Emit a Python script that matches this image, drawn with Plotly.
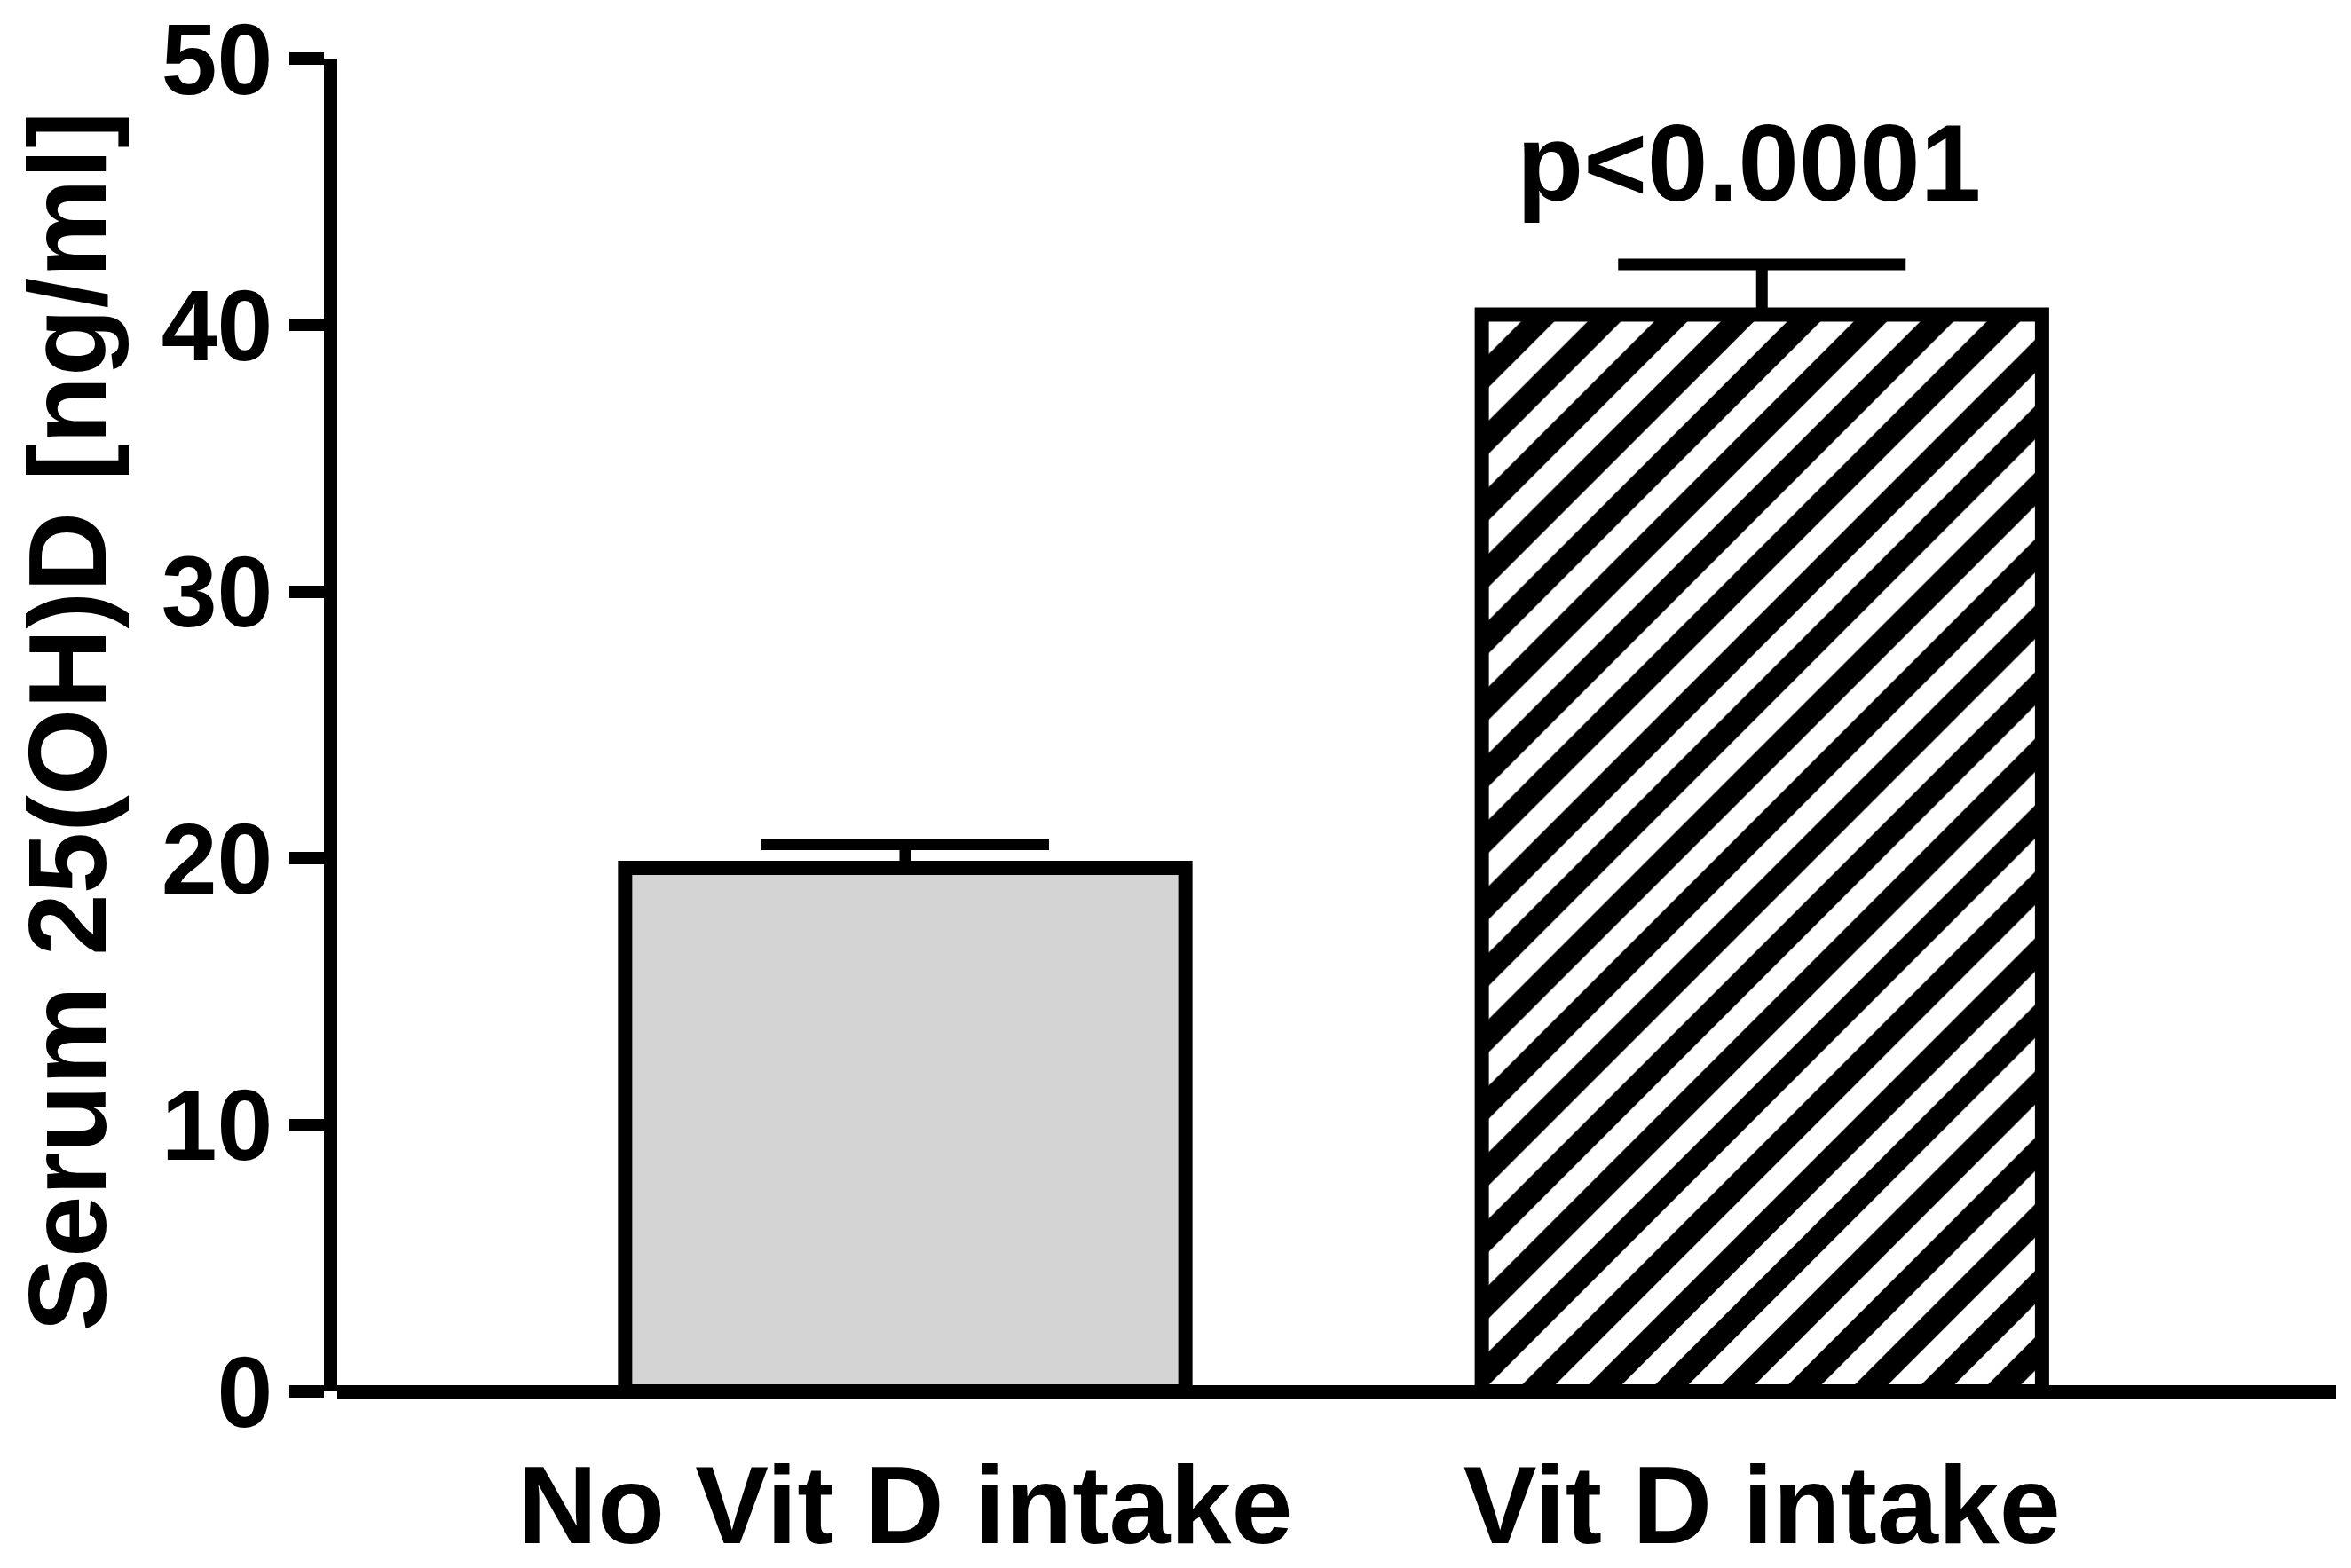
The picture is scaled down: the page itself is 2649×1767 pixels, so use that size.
import plotly.graph_objects as go

# group means and SEM
groups = ["No Vit D intake", "Vit D intake"]
means = [19.64, 40.40]
sem = [0.88, 1.88]
y_ticks = [0, 10, 20, 30, 40, 50]
p_label = "p<0.0001"

FONT = "Liberation Sans, Arial, sans-serif"

fig = go.Figure()

# grey bar (no intake)
fig.add_trace(go.Bar(
    x=[groups[0]], y=[means[0]], width=0.654,
    marker=dict(color="#d4d4d4", line=dict(color="black", width=16)),
    error_y=dict(type="data", symmetric=False, array=[sem[0]], arrayminus=[0],
                 color="black", thickness=13, width=162),
    showlegend=False,
))

# hatched bar (intake)
fig.add_trace(go.Bar(
    x=[groups[1]], y=[means[1]], width=0.654,
    marker=dict(
        color="white",
        line=dict(color="black", width=16),
        pattern=dict(shape="/", fgcolor="black", bgcolor="white", fgopacity=1,
                     size=53, solidity=0.5),
    ),
    error_y=dict(type="data", symmetric=False, array=[sem[1]], arrayminus=[0],
                 color="black", thickness=13, width=162),
    showlegend=False,
))

# p value over the second bar
fig.add_annotation(x=groups[1], y=46.1, text=p_label, showarrow=False,
                   xref="x", yref="y", xanchor="center", yanchor="middle", xshift=-15,
                   font=dict(family=FONT, size=123, color="black", weight=700))

# y title, rotated
fig.add_annotation(x=-0.135, y=0.503, xref="paper", yref="paper",
                   xanchor="center", yanchor="middle",
                   text="Serum 25(OH)D [ng/ml]", textangle=-90, showarrow=False,
                   font=dict(family=FONT, size=125, color="black", weight=700))

fig.update_xaxes(
    range=[-0.663, 1.670], automargin=False,
    showline=False, showgrid=False, zeroline=False, ticks="",
    tickfont=dict(family=FONT, size=124, color="black", weight=700),
    ticklabelstandoff=46,
)
fig.update_yaxes(
    range=[0, 50], tickvals=y_ticks, automargin=False,
    showline=True, linecolor="black", linewidth=15,
    ticks="outside", ticklen=39, tickwidth=14, tickcolor="black",
    showgrid=False,
    zeroline=True, zerolinecolor="black", zerolinewidth=15,
    tickfont=dict(family=FONT, size=113, color="black", weight=700),
    ticklabelstandoff=-4, ticklabeloverflow="allow",
)

fig.update_layout(
    width=2649, height=1767,
    margin=dict(l=380, r=17, t=66, b=199),
    plot_bgcolor="white", paper_bgcolor="white",
    barmode="overlay",
)

# drop the default page margin so the figure sits at the window corner
fig.write_html("out.html", config={"displayModeBar": False},
               post_script="document.body.style.margin = '0';")
